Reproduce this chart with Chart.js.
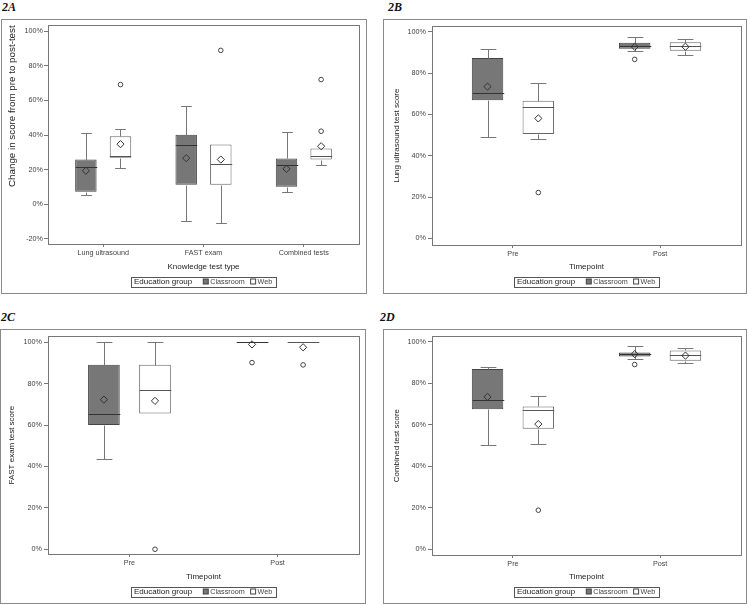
<!DOCTYPE html>
<html>
<head>
<meta charset="utf-8">
<script src="https://cdn.jsdelivr.net/npm/chart.js@4.4.1/dist/chart.umd.min.js"></script>
<style>
  body { margin: 0; background: #fff; width: 750px; height: 605px; position: relative; overflow: hidden; }
  .lbl { position: absolute; font: italic bold 12px "Liberation Serif", serif; color: #111; }
  .frame { position: absolute; border: 1px solid #8a8a8a; box-sizing: border-box; }
  .frame canvas { display: block; }
</style>
</head>
<body>
<div class="lbl" style="left:2px;top:0px">2A</div>
<div class="lbl" style="left:388px;top:0px">2B</div>
<div class="lbl" style="left:1px;top:310px">2C</div>
<div class="lbl" style="left:380px;top:310px">2D</div>

<div class="frame" style="left:1px;top:19px;width:366px;height:275px"><canvas id="chartA" width="364" height="273"></canvas></div>
<div class="frame" style="left:383px;top:19px;width:364px;height:275px"><canvas id="chartB" width="362" height="273"></canvas></div>
<div class="frame" style="left:0px;top:329px;width:366px;height:275px"><canvas id="chartC" width="364" height="273"></canvas></div>
<div class="frame" style="left:383px;top:329px;width:364px;height:275px"><canvas id="chartD" width="362" height="273"></canvas></div>

<script>
const groups = ['Classroom', 'Web'];
const testTypes = ['Lung ultrasound', 'FAST exam', 'Combined tests'];
const timepoints = ['Pre', 'Post'];
const changeTicks = [-20, 0, 20, 40, 60, 80, 100];
const scoreTicks = [0, 20, 40, 60, 80, 100];

// 2A - change in score (%), by test type
const aClassLo = [5.2, -9.8, 6.9];
const aClassQ1 = [7.1, 11.2, 10.0];
const aClassMed = [21.2, 34.5, 22.4];
const aClassQ3 = [25.8, 40.1, 26.4];
const aClassHi = [41.2, 56.8, 41.6];
const aClassMean = [19.3, 26.6, 20.4];
const aClassOut = [[], [], []];
const aWebLo = [20.8, -11.0, 22.9];
const aWebQ1 = [26.8, 11.2, 25.8];
const aWebMed = [27.6, 23.5, 27.9];
const aWebQ3 = [39.3, 34.5, 32.2];
const aWebHi = [43.5, 34.5, 32.2];
const aWebMean = [34.7, 25.8, 33.5];
const aWebOut = [[69.2], [89.0], [42.2, 72.1]];

// 2B - lung ultrasound score, pre / post
const bClassLo = [49.3, 90.7];
const bClassQ1 = [66.9, 91.8];
const bClassMed = [70.3, 93.0];
const bClassQ3 = [87.3, 94.7];
const bClassHi = [91.8, 97.4];
const bClassMean = [73.5, 92.8];
const bClassOut = [[], [86.7]];
const bWebLo = [48.0, 88.9];
const bWebQ1 = [50.6, 90.9];
const bWebMed = [63.7, 93.0];
const bWebQ3 = [66.6, 95.0];
const bWebHi = [75.1, 96.8];
const bWebMean = [58.1, 92.8];
const bWebOut = [[22.2], []];

// 2C - FAST exam score
const cClassLo = [43.4, 100];
const cClassQ1 = [60.1, 100];
const cClassMed = [65.6, 100];
const cClassQ3 = [89.1, 100];
const cClassHi = [100, 100];
const cClassMean = [72.3, 99.0];
const cClassOut = [[], [90.2]];
const cWebLo = [65.6, 100];
const cWebQ1 = [65.6, 100];
const cWebMed = [76.8, 100];
const cWebQ3 = [89.1, 100];
const cWebHi = [100, 100];
const cWebMean = [71.7, 97.6];
const cWebOut = [[0], [89.1]];

// 2D - combined score
const dClassLo = [50.1, 92.0];
const dClassQ1 = [67.6, 93.0];
const dClassMed = [71.9, 94.0];
const dClassQ3 = [87.0, 94.9];
const dClassHi = [88.0, 97.9];
const dClassMean = [73.5, 94.1];
const dClassOut = [[], [89.1]];
const dWebLo = [50.6, 89.7];
const dWebQ1 = [58.1, 90.9];
const dWebMed = [67.4, 93.7];
const dWebQ3 = [68.9, 95.9];
const dWebHi = [73.7, 97.3];
const dWebMean = [60.4, 93.4];
const dWebOut = [[18.9], []];

const GROUP_PCT = 0.69;
const BAR_PCT = 0.62;
const fills = ['#777777', '#ffffff'];
const edges = ['#444444', '#666666'];
const FONT = '"Liberation Sans", Arial, sans-serif';

Chart.defaults.font.family = FONT;
Chart.defaults.color = '#444';

function boxSet(idx, s) {
  return {
    type: 'bar',
    label: groups[idx],
    data: s.q1.map((v, i) => ({ x: i, y: [v, s.q3[i]] })),
    backgroundColor: fills[idx],
    borderColor: edges[idx],
    borderWidth: 1,
    borderSkipped: false,
    categoryPercentage: GROUP_PCT,
    barPercentage: BAR_PCT,
    stats: s,
    groupIdx: idx,
    order: 2
  };
}

function pointSets(idx, s) {
  const off = (idx === 0 ? -1 : 1) * GROUP_PCT / 4;
  const outs = [];
  s.out.forEach((list, i) => list.forEach(v => outs.push({ x: i + off, y: v })));
  return [
    {
      type: 'scatter',
      data: s.mean.map((v, i) => ({ x: i + off, y: v })),
      pointStyle: 'rectRot', pointRadius: 3.6, borderWidth: 1,
      borderColor: '#333', backgroundColor: 'rgba(0,0,0,0)', order: 0
    },
    {
      type: 'scatter',
      data: outs,
      pointStyle: 'circle', pointRadius: 2.3, borderWidth: 1,
      borderColor: '#444', backgroundColor: '#fff', order: 0
    }
  ];
}

// whiskers + median, drawn right after each box dataset
const whiskers = {
  id: 'whiskers',
  afterDatasetDraw(chart, args) {
    const ds = chart.data.datasets[args.index];
    if (!ds.stats) return;
    const y = chart.scales.y, ctx = chart.ctx, s = ds.stats;
    ctx.save();
    ctx.lineWidth = 1;
    args.meta.data.forEach((bar, i) => {
      const x = Math.round(bar.x) + 0.5;
      const half = bar.width / 2;
      const py = v => Math.round(y.getPixelForValue(v)) + 0.5;
      ctx.strokeStyle = '#777';
      ctx.beginPath();
      if (s.hi[i] > s.q3[i]) {
        ctx.moveTo(x, py(s.q3[i])); ctx.lineTo(x, py(s.hi[i]));
        ctx.moveTo(x - half / 2, py(s.hi[i])); ctx.lineTo(x + half / 2, py(s.hi[i]));
      }
      if (s.lo[i] < s.q1[i]) {
        ctx.moveTo(x, py(s.q1[i])); ctx.lineTo(x, py(s.lo[i]));
        ctx.moveTo(x - half / 2, py(s.lo[i])); ctx.lineTo(x + half / 2, py(s.lo[i]));
      }
      ctx.stroke();
      ctx.strokeStyle = ds.groupIdx === 0 ? '#333' : '#555';
      ctx.beginPath();
      ctx.moveTo(x - half, py(s.med[i])); ctx.lineTo(x + half, py(s.med[i]));
      ctx.stroke();
    });
    ctx.restore();
  }
};

// plot frame + "Education group" legend
const frameLegend = {
  id: 'frameLegend',
  afterDraw(chart) {
    const ctx = chart.ctx, a = chart.chartArea;
    ctx.save();
    ctx.strokeStyle = '#777';
    ctx.lineWidth = 1;
    ctx.strokeRect(Math.round(a.left) + 0.5, Math.round(a.top) + 0.5,
      Math.round(a.right - a.left), Math.round(a.bottom - a.top));

    const titleFont = '8px ' + FONT, itemFont = '7.2px ' + FONT;
    ctx.font = titleFont;
    const tw = ctx.measureText('Education group').width;
    ctx.font = itemFont;
    const iw = groups.map(g => ctx.measureText(g).width);
    const sw = 5, pad = 2.5;
    let total = pad + tw + 11;
    iw.forEach((w, i) => { total += sw + 2 + w + (i < iw.length - 1 ? 6 : 0); });
    total += pad + 2;
    const cy = chart.height - 11.5;
    const left = Math.round((a.left + a.right) / 2 - total / 2) + 0.5;
    ctx.strokeStyle = '#555';
    ctx.strokeRect(left, Math.round(cy - 5) + 0.5, Math.round(total), 10);
    ctx.textBaseline = 'middle';
    ctx.fillStyle = '#222';
    ctx.font = titleFont;
    let x = left + pad;
    ctx.fillText('Education group', x, cy + 0.5);
    x += tw + 11;
    ctx.font = itemFont;
    groups.forEach((g, i) => {
      ctx.fillStyle = fills[i];
      ctx.fillRect(x, cy - 2.5, sw, sw);
      ctx.strokeStyle = '#444';
      ctx.strokeRect(x, cy - 2.5, sw, sw);
      x += sw + 2;
      ctx.fillStyle = '#444';
      ctx.fillText(g, x, cy + 0.5);
      x += iw[i] + 6;
    });
    ctx.restore();
  }
};

function makePanel(id, o) {
  const sets = [boxSet(0, o.cls), boxSet(1, o.web)]
    .concat(pointSets(0, o.cls), pointSets(1, o.web));
  new Chart(document.getElementById(id), {
    type: 'bar',
    data: { datasets: sets },
    options: {
      responsive: false,
      animation: false,
      devicePixelRatio: 1,
      layout: { padding: { top: o.pad[0], right: o.pad[1], bottom: o.pad[2], left: 0 } },
      plugins: { legend: { display: false }, tooltip: { enabled: false } },
      scales: {
        x: {
          type: 'linear',
          offset: false,
          min: -0.55,
          max: o.labels.length - 1 + 0.55,
          afterBuildTicks: sc => { sc.ticks = o.labels.map((_, i) => ({ value: i })); },
          afterFit: sc => { sc.height = o.xHeight; },
          ticks: {
            callback: (v, i) => o.labels[i],
            font: { size: 7.2 }, padding: 2, autoSkip: false, maxRotation: 0
          },
          grid: { offset: false, drawOnChartArea: false, tickLength: 3, color: '#777' },
          border: { display: false },
          title: { display: true, text: o.xTitle, color: '#222', font: { size: 8 }, padding: { top: 0, bottom: 0 } }
        },
        y: {
          min: o.yMin,
          max: o.yMax,
          afterBuildTicks: sc => { sc.ticks = o.yTicks.map(v => ({ value: v })); },
          afterFit: sc => { sc.width = o.yWidth; },
          ticks: { callback: v => v + '%', font: { size: 7.2 }, padding: o.yTickPad },
          grid: { drawOnChartArea: false, tickLength: 4, color: '#777' },
          border: { display: false },
          title: {
            display: true, text: o.yTitle, color: '#222', align: o.yTitleAlign || 'center',
            font: { size: o.yTitleSize || 8 }, padding: { top: o.yTitlePad, bottom: 0 }
          }
        }
      }
    },
    plugins: [whiskers, frameLegend]
  });
}

makePanel('chartA', {
  labels: testTypes, xTitle: 'Knowledge test type', yTitle: 'Change in score from pre to post-test',
  yMin: -23.1, yMax: 103.5, yTicks: changeTicks,
  pad: [5, 7, 21], xHeight: 28, yWidth: 46, yTickPad: 1, yTitlePad: 4, yTitleSize: 9.8, yTitleAlign: 'end',
  cls: { lo: aClassLo, q1: aClassQ1, med: aClassMed, q3: aClassQ3, hi: aClassHi, mean: aClassMean, out: aClassOut },
  web: { lo: aWebLo, q1: aWebQ1, med: aWebMed, q3: aWebQ3, hi: aWebHi, mean: aWebMean, out: aWebOut }
});

makePanel('chartB', {
  labels: timepoints, xTitle: 'Timepoint', yTitle: 'Lung ultrasound test score',
  yMin: -3.2, yMax: 102.7, yTicks: scoreTicks,
  pad: [5, 3, 21], xHeight: 27, yWidth: 48, yTickPad: 2, yTitlePad: 8,
  cls: { lo: bClassLo, q1: bClassQ1, med: bClassMed, q3: bClassQ3, hi: bClassHi, mean: bClassMean, out: bClassOut },
  web: { lo: bWebLo, q1: bWebQ1, med: bWebMed, q3: bWebQ3, hi: bWebHi, mean: bWebMean, out: bWebOut }
});

makePanel('chartC', {
  labels: timepoints, xTitle: 'Timepoint', yTitle: 'FAST exam test score',
  yMin: -2.3, yMax: 102.9, yTicks: scoreTicks,
  pad: [6, 6, 21], xHeight: 28, yWidth: 47, yTickPad: 2, yTitlePad: 6,
  cls: { lo: cClassLo, q1: cClassQ1, med: cClassMed, q3: cClassQ3, hi: cClassHi, mean: cClassMean, out: cClassOut },
  web: { lo: cWebLo, q1: cWebQ1, med: cWebMed, q3: cWebQ3, hi: cWebHi, mean: cWebMean, out: cWebOut }
});

makePanel('chartD', {
  labels: timepoints, xTitle: 'Timepoint', yTitle: 'Combined test score',
  yMin: -2.7, yMax: 102.7, yTicks: scoreTicks,
  pad: [6, 3, 21], xHeight: 27, yWidth: 48, yTickPad: 2, yTitlePad: 8,
  cls: { lo: dClassLo, q1: dClassQ1, med: dClassMed, q3: dClassQ3, hi: dClassHi, mean: dClassMean, out: dClassOut },
  web: { lo: dWebLo, q1: dWebQ1, med: dWebMed, q3: dWebQ3, hi: dWebHi, mean: dWebMean, out: dWebOut }
});
</script>
</body>
</html>
